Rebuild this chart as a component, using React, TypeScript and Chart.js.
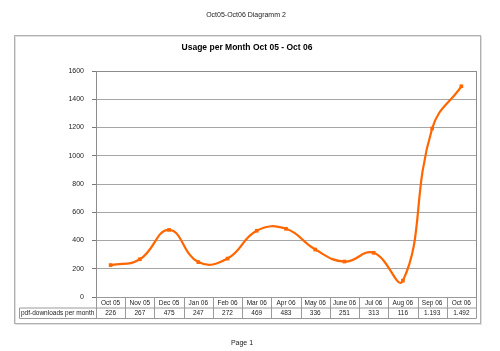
import React, { useEffect, useRef } from "react";
import { Chart, registerables } from "chart.js";

Chart.register(...registerables);

const pageHeader = "Oct05-Oct06 Diagramm 2";
const chartTitle = "Usage per Month Oct 05 - Oct 06";
const pageFooter = "Page 1";
const seriesName = "pdf-downloads per month";
const categories = ["Oct 05", "Nov 05", "Dec 05", "Jan 06", "Feb 06", "Mar 06", "Apr 06", "May 06", "June 06", "Jul 06", "Aug 06", "Sep 06", "Oct 06"];
const downloads = [226, 267, 475, 247, 272, 469, 483, 336, 251, 313, 116, 1193, 1492];
const tableLabels = ["226", "267", "475", "247", "272", "469", "483", "336", "251", "313", "116", "1.193", "1.492"];
const yTicks = [0, 200, 400, 600, 800, 1000, 1200, 1400, 1600];

const FONT = "'Liberation Sans', Arial, sans-serif";
const ORANGE = "#ff6600";
const GRID = "#a6a6a6";

const decorPlugin = {
  id: "decor",
  beforeDraw(chart: any) {
    const ctx = chart.ctx;
    ctx.save();
    ctx.fillStyle = "#ffffff";
    ctx.fillRect(0, 0, chart.width, chart.height);
    // outer box with faint shadow
    ctx.strokeStyle = "#e0e0e0";
    ctx.lineWidth = 1;
    ctx.strokeRect(15.5, 36.5, 466, 288);
    ctx.strokeStyle = "#b0b0b0";
    ctx.strokeRect(14.5, 35.5, 466, 288);
    // header & footer
    ctx.fillStyle = "#222";
    ctx.textAlign = "center";
    ctx.textBaseline = "middle";
    ctx.font = `7px ${FONT}`;
    ctx.fillText(pageHeader, 246, 15);
    ctx.fillText(pageFooter, 242, 343);
    ctx.font = `bold 8.5px ${FONT}`;
    ctx.fillStyle = "#000";
    ctx.fillText(chartTitle, 247, 48);
    ctx.restore();
  },
  afterDraw(chart: any) {
    const ctx = chart.ctx;
    const a = chart.chartArea;
    const xs = chart.scales.x;
    ctx.save();
    // plot border
    ctx.strokeStyle = "#8c8c8c";
    ctx.lineWidth = 1;
    ctx.strokeRect(Math.round(a.left) + 0.5, Math.round(a.top) + 0.5, Math.round(a.right - a.left), Math.round(a.bottom - a.top));
    // data table
    const rowTop = Math.round(a.bottom) + 0.5;
    const rowMid = rowTop + 10.5;
    const rowBot = rowMid + 10.5;
    const labelLeft = 19.5;
    const half = (xs.getPixelForValue(1) - xs.getPixelForValue(0)) / 2;
    ctx.strokeStyle = "#9a9a9a";
    ctx.beginPath();
    ctx.moveTo(Math.round(a.left) + 0.5, rowTop);
    ctx.lineTo(Math.round(a.right) + 0.5, rowTop);
    ctx.moveTo(labelLeft, rowMid);
    ctx.lineTo(Math.round(a.right) + 0.5, rowMid);
    ctx.moveTo(labelLeft, rowBot);
    ctx.lineTo(Math.round(a.right) + 0.5, rowBot);
    ctx.moveTo(labelLeft, rowMid);
    ctx.lineTo(labelLeft, rowBot);
    for (let i = 0; i < categories.length; i++) {
      const x = Math.round(xs.getPixelForValue(i) - half) + 0.5;
      ctx.moveTo(x, rowTop);
      ctx.lineTo(x, rowBot);
    }
    ctx.moveTo(Math.round(a.right) + 0.5, rowTop);
    ctx.lineTo(Math.round(a.right) + 0.5, rowBot);
    ctx.stroke();
    ctx.fillStyle = "#222";
    ctx.font = `6.5px ${FONT}`;
    ctx.textBaseline = "middle";
    ctx.textAlign = "left";
    ctx.fillText(seriesName, 21, (rowMid + rowBot) / 2);
    ctx.textAlign = "center";
    categories.forEach((c, i) => {
      const x = xs.getPixelForValue(i);
      ctx.fillText(c, x, (rowTop + rowMid) / 2);
      ctx.fillText(tableLabels[i], x, (rowMid + rowBot) / 2);
    });
    ctx.restore();
  },
};

export default function App() {
  const ref = useRef<HTMLCanvasElement>(null);
  useEffect(() => {
    if (!ref.current) return;
    const chart = new Chart(ref.current, {
      type: "line",
      data: {
        labels: categories,
        datasets: [
          {
            label: seriesName,
            data: downloads,
            borderColor: ORANGE,
            backgroundColor: ORANGE,
            borderWidth: 2.2,
            tension: 0.45,
            pointStyle: "rect",
            pointRadius: 2.6,
            pointBorderWidth: 0,
            pointBackgroundColor: ORANGE,
          },
        ],
      },
      plugins: [decorPlugin],
      options: {
        responsive: false,
        animation: false,
        events: [],
        layout: { padding: { left: 0, top: 71, right: 24, bottom: 54 } },
        plugins: { legend: { display: false }, title: { display: false }, tooltip: { enabled: false } },
        scales: {
          x: { type: "category", offset: true, display: false },
          y: {
            min: 0,
            max: 1600,
            afterBuildTicks(scale: any) {
              scale.ticks = yTicks.map((v) => ({ value: v }));
            },
            afterFit(scale: any) {
              scale.width = 96;
            },
            border: { display: false },
            grid: { color: GRID, lineWidth: 1, drawTicks: true, tickLength: 4, tickColor: "#777" },
            ticks: { color: "#222", font: { family: FONT, size: 7 }, padding: 8, callback: (v: any) => String(v) },
          },
        },
      },
    } as any);
    return () => chart.destroy();
  }, []);
  return (
    <div style={{ position: "fixed", left: 0, top: 0, width: 500, height: 351, background: "#fff" }}>
      <canvas ref={ref} width={500} height={351} style={{ display: "block", width: 500, height: 351 }} />
    </div>
  );
}
